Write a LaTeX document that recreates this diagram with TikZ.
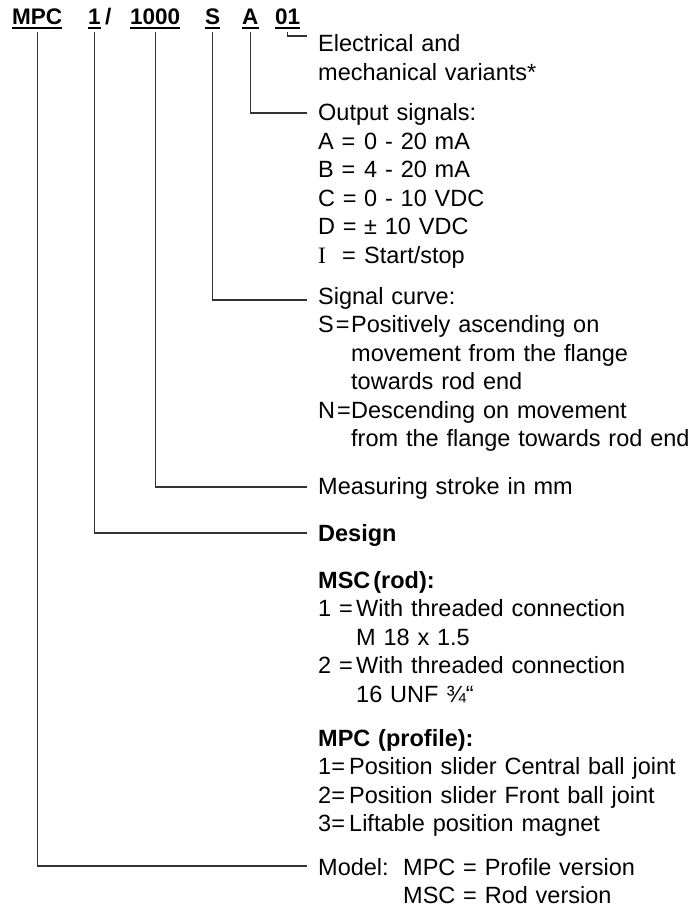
\documentclass[tikz,border=0pt]{standalone}
\usepackage{fontspec}
\setmainfont{Liberation Sans}
\newfontfamily\romanI{Liberation Serif}
\usetikzlibrary{positioning}

\newcommand{\hang}[2]{\makebox[#1][l]{#2}}

\begin{document}
\begin{tikzpicture}[
  x=1pt, y=-1pt,
  code/.style={inner sep=0pt, anchor=base west, font=\fontsize{22.5}{28.5}\selectfont\bfseries},
  desc/.style={inner ysep=0pt, inner xsep=11pt, anchor=base west, text width=420pt, align=left, font=\fontsize{23.5}{28.5}\selectfont},
  lead/.style={draw=black!80, line width=1.1pt},
  uline/.style={line width=1.8pt},
]
  \useasboundingbox (0,0) rectangle (690,909);

  % order code
  \node[code] (mpc) at (12,25) {MPC};
  \node[code] (dsg) at (88,25) {1};
  \node[code] (slash) at (105,25) {/};
  \node[code] (strk) at (130,25) {1000};
  \node[code] (crv) at (205,25) {S};
  \node[code] (sig) at (242,25) {A};
  \node[code] (var) at (275,25) {01};
  \foreach \n in {mpc, dsg, strk, crv, sig, var}
    \draw[uline] ([yshift=-3pt]\n.base west) -- ([yshift=-3pt]\n.base east);

  % explanations
  \node[desc] (vartxt) at (307,52) {Electrical and\\mechanical variants*};
  \node[desc] (sigtxt) at (307,121) {Output signals:\\
    \hang{46pt}{A =}0 - 20 mA\\
    \hang{46pt}{B =}4 - 20 mA\\
    \hang{46pt}{C =}0 - 10 VDC\\
    \hang{46pt}{D =}± 10 VDC\\
    \hang{46pt}{\makebox[24pt][l]{\romanI I}=}Start/stop};
  \node[desc] (crvtxt) at (307,304) {Signal curve:\\
    \hang{33pt}{S\hspace{2pt}=}Positively ascending on\\
    \hspace*{33pt}movement from the flange\\
    \hspace*{33pt}towards rod end\\
    \hang{33pt}{N\hspace{2pt}=}Descending on movement\\
    \hspace*{33pt}from the flange towards rod end};
  \node[desc] (strktxt) at (307,494) {Measuring stroke in mm};
  \node[desc] (dsgtxt) at (307,541) {\textbf{Design}};
  \node[desc] (rodtxt) at (307,588) {\textbf{MSC\hspace{3pt}(rod):}\\
    \hang{38pt}{1 =}With threaded connection\\
    \hspace*{38pt}M 18 x 1.5\\
    \hang{38pt}{2 =}With threaded connection\\
    \hspace*{38pt}16 UNF ¾“};
  \node[desc] (proftxt) at (307,746) {\textbf{MPC (profile):}\\
    \hang{31pt}{1=}Position slider Central ball joint\\
    \hang{31pt}{2=}Position slider Front ball joint\\
    \hang{31pt}{3=}Liftable position magnet};
  \node[desc] (mdltxt) at (307,875) {\hang{85pt}{Model:}MPC = Profile version\\
    \hspace*{85pt}MSC = Rod version};

  % leader lines
  \draw[lead] ([yshift=-7pt]var.base) |- ([yshift=16pt]vartxt.base west);
  \draw[lead] ([yshift=-7pt]sig.base) |- ([yshift=8pt]sigtxt.base west);
  \draw[lead] ([yshift=-7pt]crv.base) |- ([yshift=4pt]crvtxt.base west);
  \draw[lead] ([yshift=-7pt]strk.base) |- ([yshift=7pt]strktxt.base west);
  \draw[lead] ([yshift=-7pt]dsg.base) |- ([yshift=8pt]dsgtxt.base west);
  \draw[lead] ([yshift=-7pt]mpc.base) |- ([yshift=9pt]mdltxt.base west);
\end{tikzpicture}
\end{document}
